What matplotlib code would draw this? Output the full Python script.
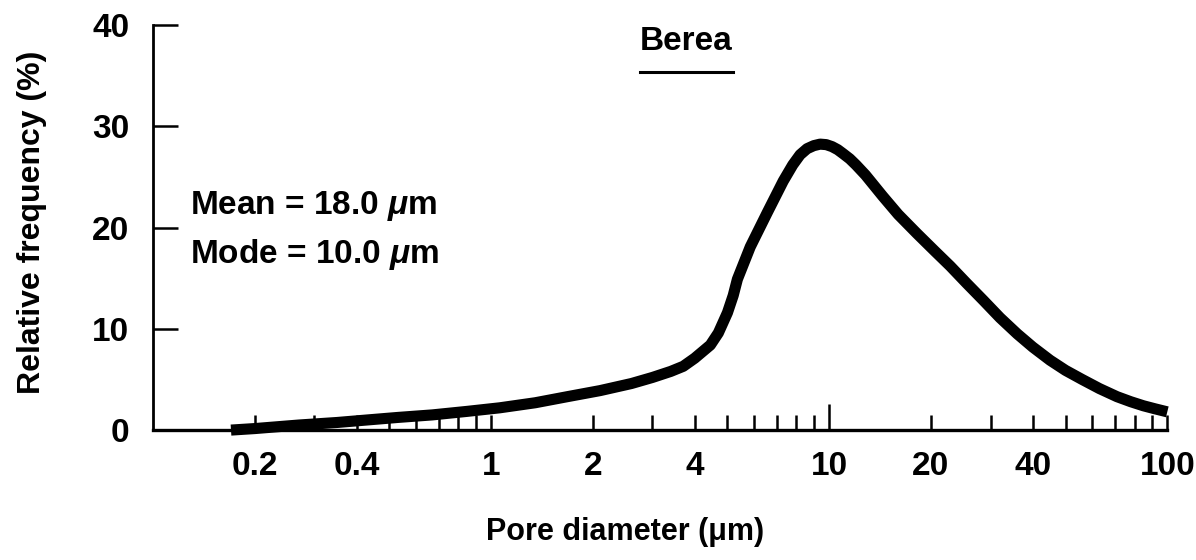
import numpy as np
import matplotlib.pyplot as plt
from matplotlib.lines import Line2D

# pore size distribution, Berea sandstone
diameter = [0.17, 0.2, 0.27, 0.35, 0.43, 0.53, 0.67, 0.85, 1.06, 1.35, 1.68,
            2.1, 2.6, 3.0, 3.4, 3.7, 4.0, 4.45, 4.7, 5.0, 5.2, 5.35, 5.84,
            6.56, 7.31, 7.8, 8.2, 8.6, 9.0, 9.4, 9.8, 10.2, 10.6, 11.0,
            11.5, 12.0, 12.8, 14.4, 16.0, 18.2, 20.5, 22.8, 25.5, 28.6,
            32.0, 36.0, 40.0, 45.0, 50.0, 56.0, 63.0, 71.0, 78.0, 85.0,
            92.0, 100.0]
frequency = [0.0, 0.15, 0.5, 0.75, 1.0, 1.25, 1.5, 1.85, 2.2, 2.7, 3.3,
             3.9, 4.6, 5.2, 5.8, 6.3, 7.1, 8.4, 9.6, 11.6, 13.3, 14.9, 18.1,
             21.5, 24.6, 26.2, 27.2, 27.8, 28.1, 28.25, 28.2, 28.0, 27.7,
             27.3, 26.8, 26.2, 25.2, 23.1, 21.3, 19.4, 17.7, 16.2, 14.5,
             12.8, 11.1, 9.5, 8.2, 6.9, 5.9, 5.0, 4.1, 3.3, 2.8, 2.4,
             2.1, 1.8]

x_ticks = [0.2, 0.4, 1, 2, 4, 10, 20, 40, 100]
x_ticklabels = ['0.2', '0.4', '1', '2', '4', '10', '20', '40', '100']
x_minor = [0.3, 0.5, 0.6, 0.7, 0.8, 0.9, 3, 5, 6, 7, 8, 9,
           30, 50, 60, 70, 80, 90]
y_ticks = [0, 10, 20, 30, 40]

plt.rcParams['font.family'] = ['Liberation Sans', 'DejaVu Sans']
plt.rcParams['font.weight'] = 'bold'
plt.rcParams['mathtext.fontset'] = 'custom'
plt.rcParams['mathtext.rm'] = 'Liberation Sans:bold'
plt.rcParams['mathtext.it'] = 'Liberation Sans:italic:bold'
plt.rcParams['mathtext.bf'] = 'Liberation Sans:bold'

fig = plt.figure(figsize=(11.96, 5.6), dpi=100)
ax = fig.add_axes([0.128, 0.232, 0.848, 0.723])

ax.plot(diameter, frequency, color='black', lw=8,
        solid_joinstyle='round', solid_capstyle='butt', clip_on=False)

ax.set_xscale('log')
ax.set_xlim(0.1, 100)
ax.set_ylim(0, 40)

ax.set_xticks(x_ticks)
ax.set_xticklabels(x_ticklabels)
ax.set_xticks(x_minor, minor=True)
ax.xaxis.set_minor_formatter(plt.NullFormatter())
ax.set_yticks(y_ticks)

ax.tick_params(axis='x', which='both', direction='in', length=11, width=1.8,
               pad=15, labelsize=24)
ax.tick_params(axis='y', direction='in', length=18, width=1.8, pad=17,
               labelsize=24)
# the tick at 10 is drawn longer
ax.xaxis.get_major_ticks()[5].tick1line.set_markersize(19)

for s in ['top', 'right']:
    ax.spines[s].set_visible(False)
ax.spines['left'].set_linewidth(2)
ax.spines['bottom'].set_linewidth(2.4)

ax.set_xlabel('Pore diameter (\u03bcm)', fontsize=22, fontweight='bold')
ax.xaxis.set_label_coords(0.465, -0.215)
ax.set_ylabel('Relative frequency (%)', fontsize=23, fontweight='bold')
ax.yaxis.set_label_coords(-0.105, 0.514)

trans = ax.get_yaxis_transform()
ax.text(0.036, 21.3, r'Mean = 18.0 $\mu$m', transform=trans, fontsize=24,
        va='baseline', ha='left')
ax.text(0.036, 16.5, r'Mode = 10.0 $\mu$m', transform=trans, fontsize=24,
        va='baseline', ha='left')

fig.text(0.574, 0.925, 'Berea', fontsize=24, fontweight='bold',
         ha='center', va='center')
fig.add_artist(Line2D([640 / 1196, 733 / 1196], [1 - 72 / 560, 1 - 72 / 560],
                      color='black', lw=2.2, transform=fig.transFigure))

fig.savefig('out.png', dpi=100)
